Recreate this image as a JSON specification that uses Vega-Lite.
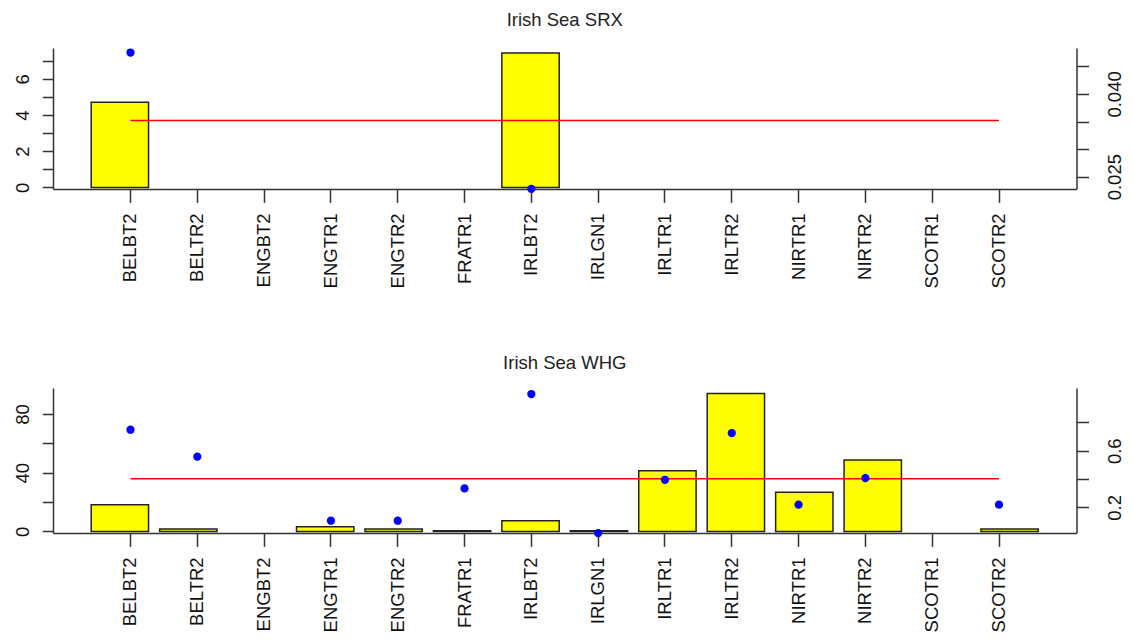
{
  "$schema": "https://vega.github.io/schema/vega-lite/v6.json",
  "background": "white",
  "padding": {"left": 13, "top": 10, "right": 0, "bottom": 0},
  "spacing": 65,
  "config": {
    "view": {"stroke": null},
    "axis": {
      "domainColor": "#333", "tickColor": "#333", "domainWidth": 1.5, "tickWidth": 1.5,
      "labelColor": "#111", "labelFont": "Liberation Sans", "labelFontSize": 18.5,
      "grid": false, "labelFlush": false, "labelOverlap": false, "title": null
    }
  },
  "datasets": {
    "srx": [
      {"code": "BELBT2", "bar": 4.70, "pt": 0.0475},
      {"code": "IRLBT2", "bar": 7.42, "pt": 0.0228}
    ],
    "srxMean": [{"from": "BELBT2", "to": "SCOTR2", "mean": 0.0352}],
    "whg": [
      {"code": "BELBT2", "bar": 18.2, "pt": 0.748},
      {"code": "BELTR2", "bar": 1.6, "pt": 0.558},
      {"code": "ENGTR1", "bar": 3.2, "pt": 0.106},
      {"code": "ENGTR2", "bar": 1.6, "pt": 0.106},
      {"code": "FRATR1", "bar": 0.5, "pt": 0.334},
      {"code": "IRLBT2", "bar": 7.3, "pt": 1.0},
      {"code": "IRLGN1", "bar": 0.5, "pt": 0.019},
      {"code": "IRLTR1", "bar": 41.4, "pt": 0.395},
      {"code": "IRLTR2", "bar": 94.0, "pt": 0.725},
      {"code": "NIRTR1", "bar": 26.6, "pt": 0.219},
      {"code": "NIRTR2", "bar": 48.6, "pt": 0.407},
      {"code": "SCOTR2", "bar": 1.6, "pt": 0.219}
    ],
    "whgMean": [{"from": "BELBT2", "to": "SCOTR2", "mean": 0.403}]
  },
  "vconcat": [
    {
      "title": {"text": "Irish Sea SRX", "anchor": "middle", "frame": "group", "baseline": "alphabetic", "offset": 4, "font": "Liberation Sans", "fontSize": 18.5, "fontWeight": "normal", "color": "#222"},
      "width": 1023.5,
      "height": 141,
      "data": {"name": "srx"},
      "layer": [
        {
          "mark": {"type": "bar", "color": "#ffff00", "stroke": "#222", "strokeWidth": 1.5},
          "encoding": {
            "x": {"field": "code", "type": "nominal", "sort": null,
              "scale": {"type": "band", "domain": ["BELBT2","BELTR2","ENGBT2","ENGTR1","ENGTR2","FRATR1","IRLBT2","IRLGN1","IRLTR1","IRLTR2","NIRTR1","NIRTR2","SCOTR1","SCOTR2"], "paddingInner": 0.162, "paddingOuter": 0.558},
              "axis": null},
            "y": {"field": "bar", "type": "quantitative",
              "scale": {"domain": [-0.088, 7.70], "nice": false, "zero": false},
              "axis": {"orient": "left", "values": [0,1,2,3,4,5,6,7], "labelExpr": "datum.value % 2 === 0 ? datum.label : ''", "tickSize": 10.7, "labelAngle": -90, "labelAlign": "center", "labelBaseline": "alphabetic", "labelPadding": 13.6}}
          }
        },
        {
          "layer": [
            {
              "data": {"name": "srxMean"},
              "mark": {"type": "rule", "color": "#ff0000", "strokeWidth": 1.5},
              "encoding": {
                "x": {"field": "from", "type": "nominal"},
                "x2": {"field": "to"},
                "y": {"field": "mean", "type": "quantitative"}
              }
            },
            {
              "mark": {"type": "circle", "color": "#0000ff", "size": 68, "opacity": 1},
              "encoding": {
                "x": {"field": "code", "type": "nominal"},
                "y": {"field": "pt", "type": "quantitative"}
              }
            }
          ],
          "encoding": {
            "x": {"field": "code", "type": "nominal", "sort": null,
              "scale": {"type": "band", "domain": ["BELBT2","BELTR2","ENGBT2","ENGTR1","ENGTR2","FRATR1","IRLBT2","IRLGN1","IRLTR1","IRLTR2","NIRTR1","NIRTR2","SCOTR1","SCOTR2"], "paddingInner": 0, "paddingOuter": 0.66},
              "axis": {"orient": "bottom", "bandPosition": 0.5, "tickSize": 13.4, "labelAngle": -90, "labelAlign": "right", "labelBaseline": "middle", "labelPadding": 10.5}},
            "y": {"field": "pt", "type": "quantitative",
              "scale": {"domain": [0.02277, 0.04832], "nice": false, "zero": false},
              "axis": {"orient": "right", "values": [0.025, 0.03, 0.035, 0.04, 0.045], "labelExpr": "datum.value === 0.025 || datum.value === 0.04 ? format(datum.value, '.3f') : ''", "tickSize": 12, "labelAngle": -90, "labelAlign": "center", "labelBaseline": "top", "labelPadding": 17}}
          }
        }
      ],
      "resolve": {"scale": {"x": "independent", "y": "independent"}}
    },
    {
      "title": {"text": "Irish Sea WHG", "anchor": "middle", "frame": "group", "baseline": "alphabetic", "offset": 1, "font": "Liberation Sans", "fontSize": 18.5, "fontWeight": "normal", "color": "#222"},
      "width": 1023.5,
      "height": 145,
      "data": {"name": "whg"},
      "layer": [
        {
          "mark": {"type": "bar", "color": "#ffff00", "stroke": "#222", "strokeWidth": 1.5},
          "encoding": {
            "x": {"field": "code", "type": "nominal", "sort": null,
              "scale": {"type": "band", "domain": ["BELBT2","BELTR2","ENGBT2","ENGTR1","ENGTR2","FRATR1","IRLBT2","IRLGN1","IRLTR1","IRLTR2","NIRTR1","NIRTR2","SCOTR1","SCOTR2"], "paddingInner": 0.162, "paddingOuter": 0.558},
              "axis": null},
            "y": {"field": "bar", "type": "quantitative",
              "scale": {"domain": [-1.09, 97.72], "nice": false, "zero": false},
              "axis": {"orient": "left", "values": [0,20,40,60,80], "labelExpr": "datum.value % 40 === 0 ? datum.label : ''", "tickSize": 10.7, "labelAngle": -90, "labelAlign": "center", "labelBaseline": "alphabetic", "labelPadding": 13.6}}
          }
        },
        {
          "layer": [
            {
              "data": {"name": "whgMean"},
              "mark": {"type": "rule", "color": "#ff0000", "strokeWidth": 1.5},
              "encoding": {
                "x": {"field": "from", "type": "nominal"},
                "x2": {"field": "to"},
                "y": {"field": "mean", "type": "quantitative"}
              }
            },
            {
              "mark": {"type": "circle", "color": "#0000ff", "size": 68, "opacity": 1},
              "encoding": {
                "x": {"field": "code", "type": "nominal"},
                "y": {"field": "pt", "type": "quantitative"}
              }
            }
          ],
          "encoding": {
            "x": {"field": "code", "type": "nominal", "sort": null,
              "scale": {"type": "band", "domain": ["BELBT2","BELTR2","ENGBT2","ENGTR1","ENGTR2","FRATR1","IRLBT2","IRLGN1","IRLTR1","IRLTR2","NIRTR1","NIRTR2","SCOTR1","SCOTR2"], "paddingInner": 0, "paddingOuter": 0.66},
              "axis": {"orient": "bottom", "bandPosition": 0.5, "tickSize": 13.4, "labelAngle": -90, "labelAlign": "right", "labelBaseline": "middle", "labelPadding": 10.5}},
            "y": {"field": "pt", "type": "quantitative",
              "scale": {"domain": [0.0193, 1.0426], "nice": false, "zero": false},
              "axis": {"orient": "right", "values": [0.2, 0.4, 0.6, 0.8], "labelExpr": "datum.value === 0.2 || datum.value === 0.6 ? format(datum.value, '.1f') : ''", "tickSize": 12, "labelAngle": -90, "labelAlign": "center", "labelBaseline": "top", "labelPadding": 17}}
          }
        }
      ],
      "resolve": {"scale": {"x": "independent", "y": "independent"}}
    }
  ]
}
